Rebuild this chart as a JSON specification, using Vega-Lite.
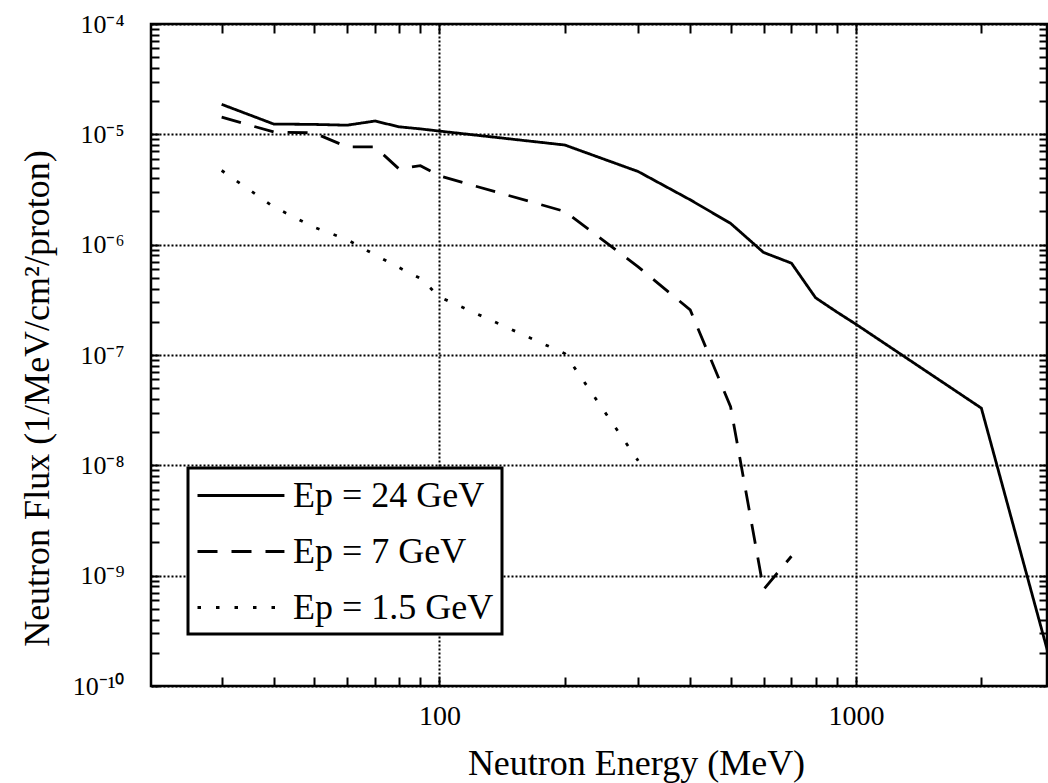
{
  "$schema": "https://vega.github.io/schema/vega-lite/v6.json",
  "width": 896,
  "height": 662,
  "autosize": {"type": "none"},
  "padding": {"left": 151, "top": 24, "right": 1, "bottom": 97},
  "background": "white",
  "config": {
    "view": {"stroke": "black", "strokeWidth": 2.5},
    "font": "Liberation Serif",
    "axis": {
      "labelFont": "Liberation Serif",
      "titleFont": "Liberation Serif",
      "labelColor": "black",
      "titleColor": "black",
      "tickColor": "black",
      "tickWidth": 2,
      "ticks": true,
      "domain": false,
      "gridColor": "black",
      "gridDash": [2, 2],
      "gridWidth": 2,
      "titleFontWeight": "normal"
    }
  },
  "datasets": {
    "curves": [
      {"series": "Ep = 24 GeV", "energy": 30, "flux": 1.87e-5},
      {"series": "Ep = 24 GeV", "energy": 40, "flux": 1.24e-5},
      {"series": "Ep = 24 GeV", "energy": 50, "flux": 1.23e-5},
      {"series": "Ep = 24 GeV", "energy": 60, "flux": 1.21e-5},
      {"series": "Ep = 24 GeV", "energy": 70, "flux": 1.32e-5},
      {"series": "Ep = 24 GeV", "energy": 80, "flux": 1.17e-5},
      {"series": "Ep = 24 GeV", "energy": 90, "flux": 1.12e-5},
      {"series": "Ep = 24 GeV", "energy": 100, "flux": 1.07e-5},
      {"series": "Ep = 24 GeV", "energy": 200, "flux": 8.0e-6},
      {"series": "Ep = 24 GeV", "energy": 300, "flux": 4.6e-6},
      {"series": "Ep = 24 GeV", "energy": 400, "flux": 2.55e-6},
      {"series": "Ep = 24 GeV", "energy": 500, "flux": 1.56e-6},
      {"series": "Ep = 24 GeV", "energy": 600, "flux": 8.5e-7},
      {"series": "Ep = 24 GeV", "energy": 700, "flux": 6.8e-7},
      {"series": "Ep = 24 GeV", "energy": 800, "flux": 3.3e-7},
      {"series": "Ep = 24 GeV", "energy": 900, "flux": 2.45e-7},
      {"series": "Ep = 24 GeV", "energy": 1000, "flux": 1.9e-7},
      {"series": "Ep = 24 GeV", "energy": 2000, "flux": 3.3e-8},
      {"series": "Ep = 24 GeV", "energy": 3000, "flux": 1.2e-10},
      {"series": "Ep = 7 GeV", "energy": 30, "flux": 1.43e-5},
      {"series": "Ep = 7 GeV", "energy": 40, "flux": 1.05e-5},
      {"series": "Ep = 7 GeV", "energy": 50, "flux": 1.03e-5},
      {"series": "Ep = 7 GeV", "energy": 60, "flux": 7.7e-6},
      {"series": "Ep = 7 GeV", "energy": 70, "flux": 7.7e-6},
      {"series": "Ep = 7 GeV", "energy": 80, "flux": 4.85e-6},
      {"series": "Ep = 7 GeV", "energy": 90, "flux": 5.2e-6},
      {"series": "Ep = 7 GeV", "energy": 100, "flux": 4.2e-6},
      {"series": "Ep = 7 GeV", "energy": 200, "flux": 2.0e-6},
      {"series": "Ep = 7 GeV", "energy": 300, "flux": 6.3e-7},
      {"series": "Ep = 7 GeV", "energy": 400, "flux": 2.56e-7},
      {"series": "Ep = 7 GeV", "energy": 500, "flux": 3.4e-8},
      {"series": "Ep = 7 GeV", "energy": 600, "flux": 7.5e-10},
      {"series": "Ep = 7 GeV", "energy": 700, "flux": 1.5e-9},
      {"series": "Ep = 1.5 GeV", "energy": 30, "flux": 4.7e-6},
      {"series": "Ep = 1.5 GeV", "energy": 40, "flux": 2.2e-6},
      {"series": "Ep = 1.5 GeV", "energy": 50, "flux": 1.44e-6},
      {"series": "Ep = 1.5 GeV", "energy": 60, "flux": 1.11e-6},
      {"series": "Ep = 1.5 GeV", "energy": 70, "flux": 8.1e-7},
      {"series": "Ep = 1.5 GeV", "energy": 80, "flux": 6.2e-7},
      {"series": "Ep = 1.5 GeV", "energy": 90, "flux": 4.95e-7},
      {"series": "Ep = 1.5 GeV", "energy": 100, "flux": 3.36e-7},
      {"series": "Ep = 1.5 GeV", "energy": 200, "flux": 1.03e-7},
      {"series": "Ep = 1.5 GeV", "energy": 300, "flux": 1.1e-8}
    ]
  },
  "data": {"name": "curves"},
  "layer": [
    {
      "mark": {"type": "line", "clip": true, "color": "black", "strokeWidth": 2.8},
      "encoding": {
        "x": {
          "field": "energy",
          "type": "quantitative",
          "scale": {"type": "log", "domain": [20.3, 2875], "nice": false},
          "axis": {
            "orient": "bottom",
            "values": [30, 40, 50, 60, 70, 80, 90, 100, 200, 300, 400, 500, 600, 700, 800, 900, 1000, 2000],
            "format": "d",
            "labelExpr": "datum.value == 100 || datum.value == 1000 ? datum.label : ''",
            "labelFontSize": 28,
            "labelPadding": 25,
            "labelBaseline": "top",
            "tickSize": -9,
            "grid": true,
            "gridOpacity": {"condition": {"test": "datum.value == 100 || datum.value == 1000", "value": 1}, "value": 0},
            "title": "Neutron Energy (MeV)",
            "titleFontSize": 36,
            "titleX": 485,
            "titleY": 77,
            "titleBaseline": "middle"
          }
        },
        "y": {
          "field": "flux",
          "type": "quantitative",
          "scale": {"type": "log", "domain": [1e-10, 1e-4], "nice": false},
          "axis": {
            "orient": "left",
            "values": [1e-10, 2e-10, 3e-10, 4e-10, 5e-10, 6e-10, 7e-10, 8e-10, 9e-10, 1e-9, 2e-9, 3e-9, 4e-9, 5e-9, 6e-9, 7e-9, 8e-9, 9e-9, 1e-8, 2e-8, 3e-8, 4e-8, 5e-8, 6e-8, 7e-8, 8e-8, 9e-8, 1e-7, 2e-7, 3e-7, 4e-7, 5e-7, 6e-7, 7e-7, 8e-7, 9e-7, 1e-6, 2e-6, 3e-6, 4e-6, 5e-6, 6e-6, 7e-6, 8e-6, 9e-6, 1e-5, 2e-5, 3e-5, 4e-5, 5e-5, 6e-5, 7e-5, 8e-5, 9e-5, 1e-4],
            "labelExpr": "abs(log(datum.value)/LN10 - round(log(datum.value)/LN10)) < 0.001 ? (round(-log(datum.value)/LN10) == 10 ? '10⁻¹⁰' : '10⁻' + substring('⁰¹²³⁴⁵⁶⁷⁸⁹', round(-log(datum.value)/LN10), round(-log(datum.value)/LN10) + 1)) : ''",
            "labelFontSize": 26,
            "labelPadding": 35,
            "tickSize": -8,
            "grid": true,
            "gridOpacity": {"condition": {"test": "abs(log(datum.value)/LN10 - round(log(datum.value)/LN10)) < 0.001", "value": 1}, "value": 0},
            "title": "Neutron Flux (1/MeV/cm²/proton)",
            "titleFontSize": 36,
            "titleX": -114,
            "titleY": 374,
            "titleBaseline": "middle",
            "titleAlign": "center",
            "titleAngle": -90
          }
        },
        "strokeDash": {
          "field": "series",
          "type": "nominal",
          "scale": {"domain": ["Ep = 24 GeV", "Ep = 7 GeV", "Ep = 1.5 GeV"], "range": [[1, 0], [20, 14], [3.5, 15]]},
          "legend": {
            "orient": "none",
            "legendX": 37,
            "legendY": 444,
            "title": null,
            "symbolType": "M-1,0H3.83",
            "symbolSize": 1296,
            "symbolStrokeWidth": 2.8,
            "symbolStrokeColor": "black",
            "labelFont": "Liberation Serif",
            "labelFontSize": 36,
            "labelLimit": 500,
            "labelColor": "black",
            "labelOffset": 58,
            "fillColor": "white",
            "strokeColor": "black",
            "padding": 8,
            "rowPadding": 18,
            "encode": {"legend": {"update": {"strokeWidth": {"value": 3}}}}
          }
        }
      }
    },
    {
      "mark": {"type": "line", "opacity": 0},
      "encoding": {
        "x": {
          "field": "energy",
          "type": "quantitative",
          "scale": {"type": "log", "domain": [20.3, 2875], "nice": false},
          "axis": {
            "orient": "top",
            "values": [30, 40, 50, 60, 70, 80, 90, 100, 200, 300, 400, 500, 600, 700, 800, 900, 1000, 2000],
            "labels": false,
            "grid": false,
            "title": null,
            "tickSize": -9
          }
        },
        "y": {
          "field": "flux",
          "type": "quantitative",
          "scale": {"type": "log", "domain": [1e-10, 1e-4], "nice": false},
          "axis": {
            "orient": "right",
            "values": [1e-10, 2e-10, 3e-10, 4e-10, 5e-10, 6e-10, 7e-10, 8e-10, 9e-10, 1e-9, 2e-9, 3e-9, 4e-9, 5e-9, 6e-9, 7e-9, 8e-9, 9e-9, 1e-8, 2e-8, 3e-8, 4e-8, 5e-8, 6e-8, 7e-8, 8e-8, 9e-8, 1e-7, 2e-7, 3e-7, 4e-7, 5e-7, 6e-7, 7e-7, 8e-7, 9e-7, 1e-6, 2e-6, 3e-6, 4e-6, 5e-6, 6e-6, 7e-6, 8e-6, 9e-6, 1e-5, 2e-5, 3e-5, 4e-5, 5e-5, 6e-5, 7e-5, 8e-5, 9e-5, 1e-4],
            "labels": false,
            "grid": false,
            "title": null,
            "tickSize": -8
          }
        },
        "detail": {"field": "series", "type": "nominal"}
      }
    }
  ],
  "resolve": {"axis": {"x": "independent", "y": "independent"}}
}
